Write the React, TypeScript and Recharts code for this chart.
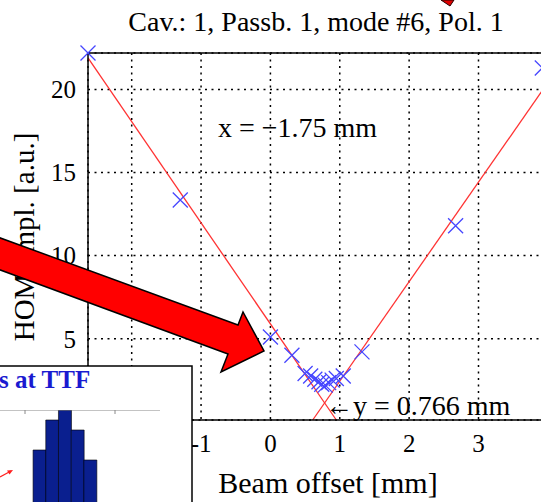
import {
  ComposedChart,
  Line,
  Scatter,
  XAxis,
  YAxis,
  CartesianGrid,
  ReferenceLine,
  BarChart,
  Bar,
} from 'recharts';

// measured HOM amplitude vs beam offset
const measX = [-2.63, -1.3, 0.0, 0.31, 0.5, 0.58, 0.64, 0.7, 0.74, 0.79, 0.84, 0.89, 0.95, 1.05, 1.32, 2.67, 3.92];
const measY = [22.2, 13.35, 5.1, 4.0, 2.9, 2.75, 2.55, 2.4, 2.25, 2.2, 2.35, 2.5, 2.6, 2.75, 4.2, 11.8, 21.3];

// linear fits (two branches of the V)
const leftFitX = [-2.63, 0.95];
const leftFitY = [21.9, 0.1];
const rightFitX = [0.61, 3.93];
const rightFitY = [0.1, 20.0];

const xTicks = [-2, -1, 0, 1, 2, 3];
const yTicks = [5, 10, 15, 20];

// inset histogram
const histBins = ['a', 'b', 'c', 'd', 'e', 'f', 'g', 'h', 'i', 'j', 'k', 'l', 'm'];
const histCounts = [0, 0, 0, 6, 9, 10, 8, 5, 0, 0, 0, 0, 0];

const FONT = '"Liberation Serif", "Times New Roman", serif';

const measured = measX.map((x, i) => ({ x, y: measY[i] }));
const leftFit = leftFitX.map((x, i) => ({ x, y: leftFitY[i] }));
const rightFit = rightFitX.map((x, i) => ({ x, y: rightFitY[i] }));
const histData = histBins.map((bin, i) => ({ bin, count: histCounts[i] }));

const Cross = (props: any) => {
  const { cx, cy } = props;
  if (cx == null || cy == null) return null;
  const s = 7.5;
  return (
    <path
      d={`M${cx - s},${cy - s}L${cx + s},${cy + s}M${cx - s},${cy + s}L${cx + s},${cy - s}`}
      stroke="#4646ff"
      strokeWidth={1.3}
      fill="none"
    />
  );
};

export default function App() {
  return (
    <div style={{ position: 'absolute', left: 0, top: 0, width: 541, height: 502, overflow: 'hidden', background: '#fff' }}>
      <div style={{ position: 'absolute', left: 0, top: 0 }}>
        <ComposedChart width={560} height={502} margin={{ top: 53, right: 17, bottom: 0, left: 28 }}>
          <CartesianGrid stroke="#000" strokeDasharray="2 4.5" strokeWidth={1.5} />
          <XAxis
            dataKey="x"
            type="number"
            domain={[-2.63, 3.93]}
            ticks={xTicks}
            height={82}
            tickSize={0}
            tickMargin={14}
            axisLine={{ stroke: '#000', strokeWidth: 1.5 }}
            tick={{ fill: '#000', fontSize: 25, fontFamily: FONT }}
          />
          <YAxis
            type="number"
            domain={[0.1, 22.2]}
            ticks={yTicks}
            width={60}
            tickSize={0}
            tickMargin={12}
            axisLine={{ stroke: '#000', strokeWidth: 1.5 }}
            tick={{ fill: '#000', fontSize: 25, fontFamily: FONT }}
          />
          <ReferenceLine y={22.2} stroke="#000" strokeWidth={1.5} />
          <Line data={leftFit} dataKey="y" stroke="#ff3333" strokeWidth={1.3} dot={false} isAnimationActive={false} />
          <Line data={rightFit} dataKey="y" stroke="#ff3333" strokeWidth={1.3} dot={false} isAnimationActive={false} />
          <Scatter data={measured} dataKey="y" shape={Cross} isAnimationActive={false} />
        </ComposedChart>
      </div>

      <svg width={541} height={502} style={{ position: 'absolute', left: 0, top: 0 }}>
        <text x={316} y={31} textAnchor="middle" fontFamily={FONT} fontSize={28} fill="#000">
          Cav.: 1, Passb. 1, mode #6, Pol. 1
        </text>
        <text x={218} y={137} fontFamily={FONT} fontSize={28} fill="#000">
          x = −1.75 mm
        </text>
        <text x={325} y={415} fontFamily={FONT} fontSize={28} fill="#000">
          ←y = 0.766 mm
        </text>
        <text x={328} y={493} textAnchor="middle" fontFamily={FONT} fontSize={30} fill="#000">
          Beam offset [mm]
        </text>
        <text
          x={34}
          y={237}
          textAnchor="middle"
          fontFamily={FONT}
          fontSize={29}
          fill="#000"
          transform="rotate(-90, 34, 237)"
        >
          HOM ampl. [a.u.]
        </text>
        {/* small arrow tip poking in at the top */}
        <polygon points="441,0 454,0 450,6" fill="#e00000" stroke="#200" strokeWidth={1} />
        {/* big red arrow */}
        <polygon
          points="-5,236 238,325 243,312 264,351 221,372 228,354 -5,268"
          fill="#ff0000"
          stroke="#000"
          strokeWidth={1.5}
        />
        {/* inset panel */}
        <rect x={-2} y={366} width={194} height={150} fill="#fff" stroke="#000" strokeWidth={1.5} />
        <text x={-1} y={388} fontFamily={FONT} fontSize={25} fontWeight="bold" fill="#1a1ad0">
          s at TTF
        </text>
      </svg>

      <div style={{ position: 'absolute', left: -5, top: 410 }}>
        <BarChart width={165} height={100} data={histData} margin={{ top: 0, right: 0, bottom: 0, left: 0 }} barCategoryGap={0}>
          <XAxis dataKey="bin" hide />
          <YAxis
            orientation="right"
            domain={[0, 10]}
            ticks={[2, 4, 6, 8]}
            width={0}
            mirror
            tick={false}
            tickSize={4}
            axisLine={{ stroke: '#888' }}
            tickLine={{ stroke: '#888' }}
          />
          <ReferenceLine y={10} stroke="#888" />
          <Bar dataKey="count" fill="#0a1f8f" stroke="#000" strokeWidth={0.6} isAnimationActive={false} />
        </BarChart>
      </div>

      <svg width={541} height={502} style={{ position: 'absolute', left: 0, top: 0, pointerEvents: 'none' }}>
        <line x1={25} y1={410} x2={25} y2={414} stroke="#888" />
        <line x1={115} y1={410} x2={115} y2={414} stroke="#888" />
        <line x1={0} y1={477} x2={11} y2={471} stroke="#ff2020" strokeWidth={1.2} />
        <polygon points="13,470 7,470.5 9.5,474.5" fill="#ff2020" />
      </svg>
    </div>
  );
}
